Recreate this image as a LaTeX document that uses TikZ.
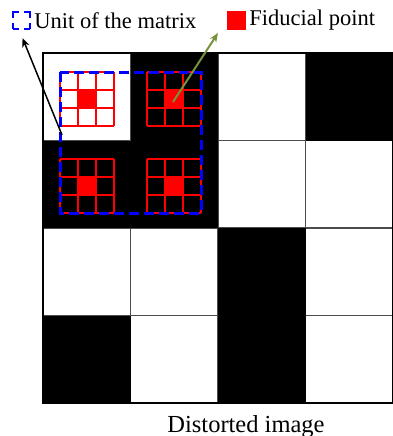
\documentclass[tikz,border=0pt]{standalone}
\usepackage{fontspec}
\setmainfont{Liberation Serif}
\usetikzlibrary{arrows.meta,positioning}
\definecolor{MarkRed}{RGB}{255,0,0}
\definecolor{UnitBlue}{RGB}{0,0,255}
\definecolor{PtrGreen}{RGB}{118,146,60}
\tikzset{
  cellline/.style={draw=black!70,line width=1.3pt},
  frame/.style={draw=black,line width=1.8pt},
  subline/.style={draw=MarkRed,line width=2pt},
  unitbox/.style={draw=UnitBlue,line width=3pt,dash pattern=on 10pt off 5pt},
  unitkey/.style={draw=UnitBlue,line width=2.4pt,minimum size=17pt,inner sep=0pt,
                  dash pattern=on 6pt off 5pt on 6pt off 0pt},
  fidkey/.style={fill=MarkRed,minimum size=19pt,inner sep=0pt},
  keytxt/.style={font=\fontsize{22.5}{24}\selectfont,inner sep=0pt},
  ptr/.style={-{Stealth[length=3.2mm,width=2.6mm]},line width=1.5pt},
}

\begin{document}
\begin{tikzpicture}[x=1pt,y=-1pt]
  \useasboundingbox (0,0) rectangle (393,436);
  % checkerboard, cell = 87.5
  \foreach \t in {1,2,3} {
    \draw[cellline] (43+87.5*\t,53) -- ++(0,350);
    \draw[cellline] (43,53+87.5*\t) -- ++(350,0);
  }
  \foreach \c/\r in {1/0,3/0,0/1,1/1,2/2,0/3,2/3}
    \fill (43+87.5*\c,53+87.5*\r) rectangle ++(87.5,87.5);
  \draw[frame] (43,53) rectangle (393,403);
  % fiducial grids
  \foreach \gx/\gy in {60/72,147/72,60/159,147/159} {
    \fill[MarkRed] (\gx+18,\gy+18) rectangle ++(18,18);
    \foreach \t in {0,18,36,54} {
      \draw[subline] (\gx+\t,\gy) -- ++(0,54);
      \draw[subline] (\gx,\gy+\t) -- ++(54,0);
    }
  }
  \draw[unitbox] (60,72) rectangle (201,213);
  % legend
  \node[unitkey] (unitkey) at (21.5,20.5) {};
  \node[keytxt,right=3pt of unitkey] (unittxt) {Unit of the matrix};
  \node[fidkey] (fidkey) at (236,20.5) {};
  \node[keytxt,right=3.5pt of fidkey] (fidtxt) {Fiducial point};
  \node[font=\fontsize{24.5}{26}\selectfont,inner sep=0pt,anchor=base] (caption)
    at (246,432) {Distorted image};
  % pointers
  \coordinate (unitfoot) at (62,135);
  \coordinate (unittip) at (22.5,38);
  \coordinate (fidfoot) at (173,102);
  \coordinate (fidtip) at (218,33);
  \draw[ptr] (unitfoot) -- (unittip);
  \draw[ptr,PtrGreen,line width=2pt] (fidfoot) -- (fidtip);
\end{tikzpicture}
\end{document}
